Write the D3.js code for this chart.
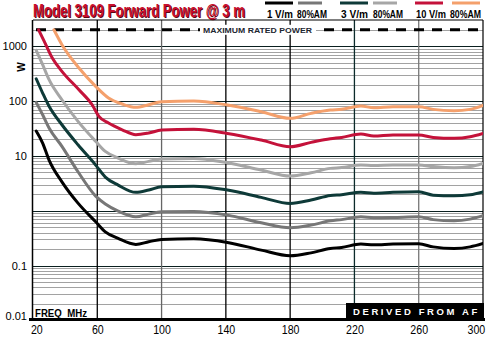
<!DOCTYPE html>
<html><head><meta charset="utf-8">
<script src="https://cdn.jsdelivr.net/npm/d3@7/dist/d3.min.js"></script>
<style>body{margin:0;background:#fff}svg{display:block}</style>
</head><body>
<svg id="c" width="488" height="338"></svg>
<script>
// ---- data ----
const freqs = [22,26,30,38,48,59,65,73,84,92,100,120,141,162,180,193,205,212,224,232,244,260,269,282,292,300];
const w1Vm    = [28.5,17.2,8.42,3.38,1.38,0.630,0.414,0.314,0.244,0.272,0.301,0.308,0.265,0.192,0.151,0.171,0.206,0.215,0.247,0.240,0.247,0.250,0.220,0.206,0.220,0.254];
const w1VmAM  = [95.1,56.5,32.3,14.97,5.15,1.85,1.33,0.987,0.777,0.871,0.959,0.975,0.835,0.604,0.490,0.548,0.657,0.691,0.777,0.751,0.758,0.777,0.691,0.657,0.706,0.811];
const w3Vm    = [256,140.5,80.4,37.1,16.0,6.82,4.12,2.94,2.17,2.39,2.74,2.82,2.39,1.76,1.36,1.57,1.91,1.97,2.17,2.10,2.17,2.22,1.93,1.88,1.97,2.22];
const w3VmAM  = [845,462,246,106,42.8,18.5,12.1,9.16,7.21,7.97,8.78,9.04,7.52,5.53,4.30,4.94,5.94,6.14,6.82,6.68,6.82,6.82,6.40,6.09,6.40,7.33];
const freqs10 = [23.5,27,32,38,48.6,56.8,61,67,75.5,84,92,100,120,141,162,180,193,205,212,224,232,244,260,269,282,292,300];
const w10Vm   = [2000,1233,612,350,161,86,52.8,39.8,30,24.4,26.2,29.7,30.6,25.8,19.5,14.7,17.7,20.6,21.8,25.1,23.1,24.1,24.1,21.8,21.0,22.4,25.8];
const freqs10AM = [33,38,48.6,59,67,75.5,84,92,100,120,141,162,180,193,205,212,224,232,244,260,269,282,292,300];
const w10VmAM = [2000,1070,402,186,114,88.6,77,86,97.5,100.4,84.9,64.1,48.5,59.9,68.8,70.8,81.4,75.8,79.1,79.1,70.8,66.8,70.8,83.8];
const maxRated = 2000;
const xTicks = [20,60,100,140,180,220,260,300];
const yTicks = [1000,100,10,0.1,0.01];
const yTickLabels = ["1000","100","10","0.1","0.01"];
const legendLabels = ["1 V/m","80%AM","3 V/m","80%AM","10 V/m","80%AM"];
const title = "Model 3109 Forward Power @ 3 m";

const series = [
  {f: freqs, v: w1Vm,   color: "#000000"},
  {f: freqs, v: w1VmAM, color: "#777777"},
  {f: freqs, v: w3Vm,   color: "#0e3a38"},
  {f: freqs, v: w3VmAM, color: "#a6a6a6"},
  {f: freqs10, v: w10Vm,   color: "#c4123a"},
  {f: freqs10AM, v: w10VmAM, color: "#f4a06c"}
];

// ---- layout ----
const L = 33, R = 483, T = 20, B = 320.5;
const svg = d3.select("#c");
const x = d3.scaleLinear().domain([20,300]).range([L,R]);
const y = d3.scaleLog().domain([0.01,1000]).range([B,46.3]);
const FONT = "'Liberation Sans',Arial,sans-serif";

// text squeezed horizontally to a target width (real glyph box scaled)
function fitText(parent, x0, y0, str, width, size, attrs) {
  const g = parent.append("g");
  const t = g.append("text").attr("x",0).attr("y",0).text(str)
    .attr("font-family",FONT).attr("font-weight","bold").attr("font-size",size);
  Object.entries(attrs||{}).forEach(([k,v])=>t.attr(k,v));
  const w = t.node().getComputedTextLength();
  g.attr("transform",`translate(${x0},${y0}) scale(${width/w},1)`);
  return g;
}

svg.append("defs").append("clipPath").attr("id","pc")
  .append("rect").attr("x",L).attr("y",T).attr("width",R-L).attr("height",B-T);

// minor horizontal grid
const minors = [];
[0.01,0.1,1,10,100,1000].forEach(d => { for (let k=2;k<=9;k++) { const v=d*k; if (y(v) > T+1) minors.push(v);} });
svg.append("g").selectAll("line").data(minors).join("line")
  .attr("x1",L).attr("x2",R).attr("y1",d=>Math.round(y(d))+0.5).attr("y2",d=>Math.round(y(d))+0.5)
  .attr("stroke","#a2a2a2").attr("stroke-width",1);
// major horizontal grid
svg.append("g").selectAll("line").data([0.1,1,10,100,1000]).join("line")
  .attr("x1",L).attr("x2",R).attr("y1",d=>Math.round(y(d))+0.5).attr("y2",d=>Math.round(y(d))+0.5)
  .attr("stroke","#0a1f1f").attr("stroke-width",1.2);
// vertical grid
const vColors = {60:"#000",100:"#666",140:"#000",180:"#000",220:"#0c2b2b",260:"#777"};
svg.append("g").selectAll("line").data([60,100,140,180,220,260]).join("line")
  .attr("x1",d=>x(d)).attr("x2",d=>x(d)).attr("y1",T).attr("y2",B)
  .attr("stroke",d=>vColors[d]).attr("stroke-width",1.3);

// frame
svg.append("line").attr("x1",L).attr("x2",R).attr("y1",T).attr("y2",T).attr("stroke","#000").attr("stroke-width",1.2);
svg.append("line").attr("x1",L-0.5).attr("x2",L-0.5).attr("y1",T).attr("y2",B).attr("stroke","#000").attr("stroke-width",1.5);
svg.append("line").attr("x1",R).attr("x2",R).attr("y1",T).attr("y2",B).attr("stroke","#000").attr("stroke-width",1.2);

// max rated power dashed line
const ym = y(maxRated);
svg.append("line").attr("x1",L+3).attr("x2",R).attr("y1",ym).attr("y2",ym)
  .attr("stroke","#000").attr("stroke-width",3).attr("stroke-dasharray","10,8");
svg.append("rect").attr("x",200).attr("y",ym-5).attr("width",116).attr("height",10).attr("fill","#fff");
fitText(svg, 203, ym+3, "MAXIMUM RATED POWER", 109, 8, {fill:"#1c2630"});

// curves
const line = d3.line().x(d=>x(d[0])).y(d=>y(d[1])).curve(d3.curveMonotoneX);
svg.append("g").attr("clip-path","url(#pc)").selectAll("path").data(series).join("path")
  .attr("d",s=>line(s.f.map((f,i)=>[f,s.v[i]])))
  .attr("fill","none").attr("stroke",s=>s.color).attr("stroke-width",3)
  .attr("stroke-linejoin","round").attr("stroke-linecap","round");

// bottom axis line
svg.append("line").attr("x1",29).attr("x2",485).attr("y1",319.5).attr("y2",319.5).attr("stroke","#000").attr("stroke-width",2.8);

// x axis labels
const xa = svg.append("g").attr("transform",`translate(0,${B})`)
  .call(d3.axisBottom(x).tickValues(xTicks).tickSize(0).tickPadding(4).tickFormat(d3.format("d")));
xa.select(".domain").remove();
xa.selectAll("text").attr("font-family",FONT).attr("font-size",12.5).attr("fill","#000").attr("dy","0.75em")
  .attr("transform","scale(0.85,1)").attr("x",function(d){return x(d)*0 ;});
xa.selectAll(".tick text").filter(d=>d===20).attr("text-anchor","start").attr("dx",-3);
xa.selectAll(".tick text").filter(d=>d===300).attr("text-anchor","end").attr("dx",2);

// y axis labels
const ya = svg.append("g").attr("transform",`translate(27,0)`)
  .call(d3.axisLeft(y).tickValues(yTicks).tickSize(0).tickPadding(0).tickFormat((d,i)=>yTickLabels[i]));
ya.select(".domain").remove();
ya.selectAll("text").attr("font-family",FONT).attr("font-size",11).attr("fill","#000");
ya.selectAll(".tick text").filter(d=>d===0.01).attr("dy","-0.05em");

// W unit label
svg.append("text").attr("transform","translate(25,67) rotate(-90)").attr("text-anchor","middle")
  .attr("font-family",FONT).attr("font-weight","bold").attr("font-size",10).text("W");

// FREQ MHz
fitText(svg, 35, 316.5, "FREQ  MHz", 52, 11.5, {"xml:space":"preserve"});

// DERIVED FROM AF box
svg.append("rect").attr("x",346).attr("y",303).attr("width",R-346+1).attr("height",16).attr("fill","#000");
svg.append("text").attr("x",353).attr("y",315).text("DERIVED FROM AF")
  .attr("font-family",FONT).attr("font-weight","bold").attr("font-size",9.5)
  .attr("fill","#fff").attr("letter-spacing",2.6);

// title (with dark shadow)
fitText(svg, 34, 17.5, title, 212, 18.5, {fill:"#5a0612"});
fitText(svg, 33, 16.7, title, 212, 18.5, {fill:"#c8102e"});

// legend
const legX = [[265,293],[298,322],[340,368],[373,397],[415,443],[452,480]];
const legTx = [[267,26],[297,30],[341,27],[373,30],[416,30],[450,31]];
const lg = svg.append("g");
lg.selectAll("line").data(series).join("line")
  .attr("x1",(s,i)=>legX[i][0]).attr("x2",(s,i)=>legX[i][1]).attr("y1",3).attr("y2",3)
  .attr("stroke",s=>s.color).attr("stroke-width",3);
legendLabels.forEach((d,i)=>fitText(lg, legTx[i][0], 18, d, legTx[i][1], 11, {}));
</script>
</body></html>
